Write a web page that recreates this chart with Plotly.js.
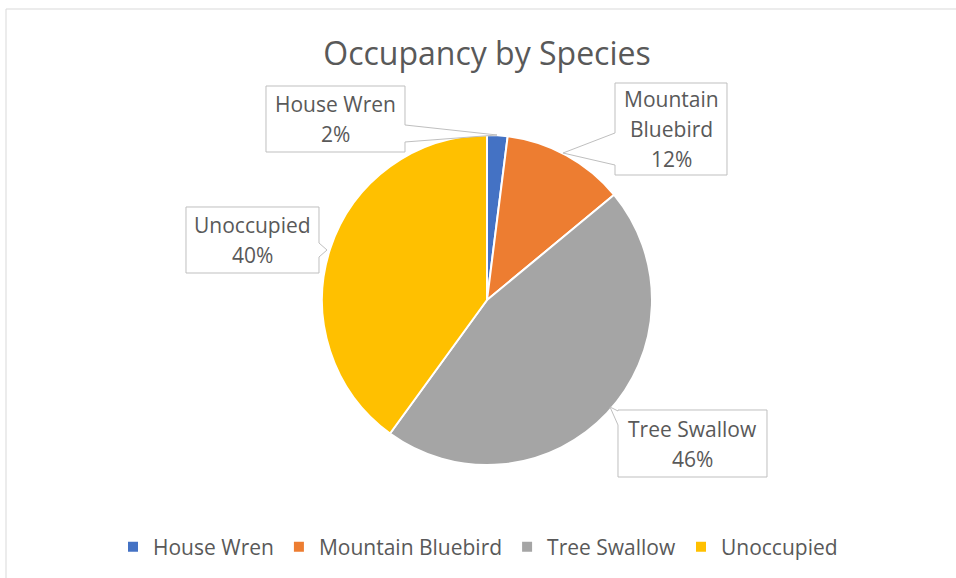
<!DOCTYPE html>
<html>
<head>
<meta charset="utf-8">
<script src="https://cdn.plot.ly/plotly-3.0.1.min.js"></script>
<style>html,body{margin:0;padding:0;background:#fff;}#chart{width:956px;height:578px;}</style>
</head>
<body>
<div id="chart"></div>
<script>
const categories = ["House Wren", "Mountain Bluebird", "Tree Swallow", "Unoccupied"];
const values = [2, 12, 46, 40];
const labelLines = [["House Wren", "2%"], ["Mountain", "Bluebird", "12%"], ["Tree Swallow", "46%"], ["Unoccupied", "40%"]];
const colors = ["#4472C4", "#ED7D31", "#A5A5A5", "#FFC000"];

const W = 956, H = 578;
const px = x => x / W;
const py = y => 1 - y / H;

// callout geometry in pixels: box [x0,y0,x1,y1], pointer side, pointer base (y range), tip point
const callouts = [
  {box: [266, 86, 405, 152], side: "right", base: [125, 142], tip: [497, 135]},
  {box: [615, 83, 727, 175], side: "left", base: [133, 165], tip: [563, 153]},
  {box: [618, 410, 767, 477], side: "left", base: [411, 425], tip: [610, 407]},
  {box: [186, 207, 319, 273], side: "right", base: [243, 257], tip: [327, 250]}
];

const font = "'Open Sans', 'Noto Sans', sans-serif";
const lineGap = 30;

function calloutPath(k) {
  const [x0, y0, x1, y1] = k.box;
  let pts;
  if (k.side === "right") {
    pts = [[x0, y0], [x1, y0], [x1, k.base[0]], k.tip, [x1, k.base[1]], [x1, y1], [x0, y1]];
  } else {
    pts = [[x0, y0], [x1, y0], [x1, y1], [x0, y1], [x0, k.base[1]], k.tip, [x0, k.base[0]]];
  }
  return "M " + pts.map(p => px(p[0]).toFixed(5) + "," + py(p[1]).toFixed(5)).join(" L ") + " Z";
}

const shapes = [{
  type: "rect", xref: "paper", yref: "paper",
  x0: px(6), x1: 1.05, y0: -0.05, y1: py(9),
  line: {color: "#d9d9d9", width: 1}, fillcolor: "rgba(0,0,0,0)"
}];
const annotations = [];

categories.forEach((c, i) => {
  const k = callouts[i];
  shapes.push({
    type: "path", xref: "paper", yref: "paper", path: calloutPath(k),
    line: {color: "#bfbfbf", width: 1}, fillcolor: "#ffffff", layer: "above"
  });
  const cx = (k.box[0] + k.box[2]) / 2, cy = (k.box[1] + k.box[3]) / 2;
  const lines = labelLines[i];
  lines.forEach((t, j) => {
    const y = cy + (j - (lines.length - 1) / 2) * lineGap;
    annotations.push({
      text: t, xref: "paper", yref: "paper",
      x: px(cx), y: py(y), xanchor: "center", yanchor: "middle",
      showarrow: false,
      font: {family: font, size: 21, color: "#595959"}
    });
  });
});

const trace = {
  type: "pie",
  labels: categories,
  values: values,
  sort: false,
  direction: "clockwise",
  rotation: 0,
  textinfo: "none",
  hoverinfo: "label+percent",
  marker: {colors: colors, line: {color: "#ffffff", width: 2}},
  domain: {x: [px(322), px(652)], y: [py(465), py(135)]}
};

const layout = {
  width: W, height: H,
  margin: {l: 0, r: 0, t: 0, b: 0},
  paper_bgcolor: "#ffffff",
  title: {
    text: "Occupancy by Species",
    x: px(487), xanchor: "center", xref: "paper",
    y: py(54), yanchor: "middle", yref: "paper",
    font: {family: font, size: 32, color: "#595959"}
  },
  showlegend: true,
  legend: {
    orientation: "h",
    x: 0.5, xanchor: "center",
    y: py(547), yanchor: "middle",
    font: {family: font, size: 21, color: "#595959"},
    traceorder: "normal"
  },
  annotations: annotations,
  shapes: shapes
};

Plotly.newPlot("chart", [trace], layout, {displayModeBar: false, staticPlot: true});
</script>
</body>
</html>
